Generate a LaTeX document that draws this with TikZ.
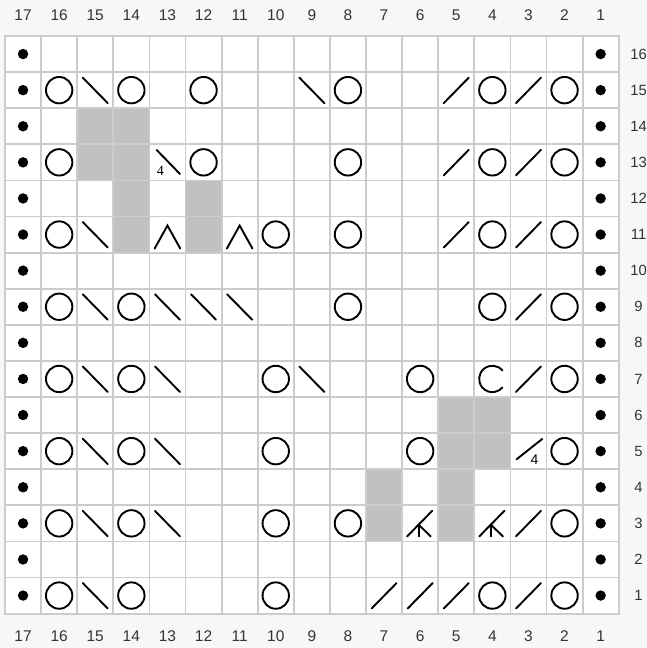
\documentclass[tikz,border=0pt]{standalone}
\usepackage{fontspec}
\setmainfont{Liberation Sans}
\newfontfamily\smallserif{Liberation Serif}
\definecolor{bgc}{HTML}{F6F7F7}
\definecolor{gridc}{HTML}{CCCCCC}
\definecolor{shadec}{HTML}{C0C1C3}
\definecolor{labc}{HTML}{333333}
\tikzset{
  sym/.style={line width=1.9pt, black, line cap=round},
  lab/.style={text=labc, font=\fontsize{15.5}{18}\selectfont, inner sep=0pt},
  rowlab/.style={text=labc, font=\fontsize{14.8}{18}\selectfont, inner sep=0pt},
  pyo/.pic={\draw[sym] (0,0) circle[radius=13.2pt];},
  pssk/.pic={\draw[sym] (-12.5pt,12.5pt) -- (12.5pt,-13pt);},
  pktwo/.pic={\draw[sym] (-12.5pt,-13pt) -- (12.5pt,12.5pt);},
  plam/.pic={\draw[sym, line join=miter] (-12.8pt,-14pt) -- (0pt,9pt) -- (12.8pt,-14pt);},
  pcee/.pic={\draw[sym] (40:13.2pt) arc[start angle=40, end angle=320, radius=13.2pt];},
  pkk/.pic={\draw[sym] (-13pt,-13pt) -- (12pt,12.5pt);
            \draw[sym] (-1.5pt,-1.3pt) -- (-1.5pt,-13pt);
            \draw[sym] (-1.5pt,-1.3pt) -- (10.5pt,-13pt);},
  psskfour/.pic={\draw[sym] (-10.8pt,12.4pt) -- (12.5pt,-11.6pt);
            \node[inner sep=0pt, font=\smallserif\fontsize{14}{14}\selectfont] (four-a) at (-7pt,-9pt) {4};},
  pktwofour/.pic={\draw[sym] (-11.8pt,-8.1pt) -- (13.8pt,12.2pt);
            \node[inner sep=0pt, font=\fontsize{14}{14}\selectfont] (four-b) at (6pt,-8.8pt) {4};},
}
\begin{document}
\begin{tikzpicture}[x=1pt,y=1pt]
\fill[bgc] (0,0) rectangle (647,-648);
\useasboundingbox (0,0) rectangle (647,-648);
\fill[white] (5,-36) rectangle (618.7,-613.6);
\begin{scope}[x=-36.1pt, y=36.1pt, shift={(636.75pt,-631.65pt)}]
  % shaded cells
  \fill[shadec] (15.5,14.5) rectangle (13.5,12.5);
  \fill[shadec] (14.5,12.5) rectangle (13.5,10.5);
  \fill[shadec] (12.5,12.5) rectangle (11.5,10.5);
  \fill[shadec] (5.5,6.5) rectangle (3.5,4.5);
  \fill[shadec] (5.5,4.5) rectangle (4.5,2.5);
  \fill[shadec] (7.5,4.5) rectangle (6.5,2.5);
  % grid
  \foreach \c in {0,...,17} \draw[gridc, line width=1.8pt] (\c+0.5,0.5) -- (\c+0.5,16.5);
  \foreach \r in {0,...,16} \draw[gridc, line width=1.8pt] (0.5,\r+0.5) -- (17.5,\r+0.5);
  \draw[gridc, line width=1.8pt] (0.5,0.5) rectangle (17.5,16.5);
  % labels
  \foreach \c in {1,...,17} {
    \node[lab] (top-\c) at (\c,17.08) {\c};
    \node[lab] (bot-\c) at (\c,-0.12) {\c};
  }
  \foreach \r in {1,...,16} \node[rowlab] (row-\r) at (-0.05,\r) {\r};
  % edge dots
  \foreach \r in {1,...,16} {
    \fill (17,\r) circle[radius=5.2pt];
    \fill (1,\r) circle[radius=5.2pt];
  }
  % yarn overs
  \foreach \c/\r in {16/15,14/15,12/15,8/15,4/15,2/15,
                     16/13,12/13,8/13,4/13,2/13,
                     16/11,10/11,8/11,4/11,2/11,
                     16/9,14/9,8/9,4/9,2/9,
                     16/7,14/7,10/7,6/7,2/7,
                     16/5,14/5,10/5,6/5,2/5,
                     16/3,14/3,10/3,8/3,2/3,
                     16/1,14/1,10/1,4/1,2/1}
    \pic at (\c,\r) {pyo};
  % left-leaning decreases
  \foreach \c/\r in {15/15,9/15,15/11,15/9,13/9,12/9,11/9,15/7,13/7,9/7,
                     15/5,13/5,15/3,13/3,15/1}
    \pic at (\c,\r) {pssk};
  % right-leaning decreases
  \foreach \c/\r in {5/15,3/15,5/13,3/13,5/11,3/11,3/9,3/7,3/3,7/1,6/1,5/1,3/1}
    \pic at (\c,\r) {pktwo};
  \pic at (13,11) {plam};
  \pic at (11,11) {plam};
  \pic at (4,7) {pcee};
  \pic at (6,3) {pkk};
  \pic at (4,3) {pkk};
  \pic at (13,13) {psskfour};
  \pic at (3,5) {pktwofour};
\end{scope}
\end{tikzpicture}
\end{document}
